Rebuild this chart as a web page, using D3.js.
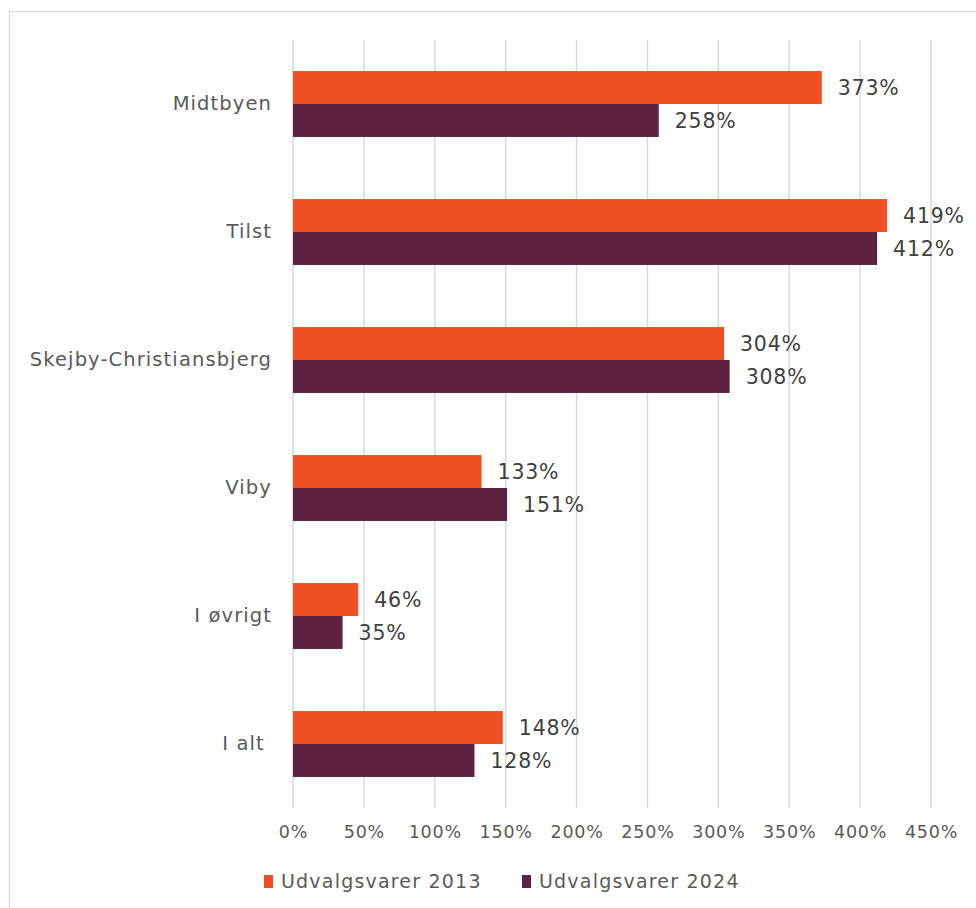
<!DOCTYPE html>
<html>
<head>
<meta charset="utf-8">
<script src="https://cdn.jsdelivr.net/npm/d3@7"></script>
<style>
  html, body { margin: 0; padding: 0; background: #fff; }
  svg { display: block; font-family: Verdana, "DejaVu Sans", sans-serif; }
  text { white-space: pre; }
</style>
</head>
<body>
<svg id="chart" width="976" height="908"></svg>
<script>
// Areas and the two survey years
const categories = ["Midtbyen", "Tilst", "Skejby-Christiansbjerg", "Viby", "I øvrigt", "I alt "];
const seriesNames = ["Udvalgsvarer 2013", "Udvalgsvarer 2024"];
const values2013 = [373, 419, 304, 133, 46, 148];
const values2024 = [258, 412, 308, 151, 35, 128];
const tickValues = [0, 50, 100, 150, 200, 250, 300, 350, 400, 450];
const colors = ["#F04E23", "#5E2140"];

const FONT = "Verdana, 'DejaVu Sans', sans-serif";
const svg = d3.select("#chart");

// Outer frame (runs off the right and bottom edges)
svg.append("rect")
  .attr("x", 9.5).attr("y", 11.5)
  .attr("width", 1000).attr("height", 1000)
  .attr("fill", "#fff").attr("stroke", "#d9d9d9").attr("stroke-width", 1.2);

const x = d3.scaleLinear().domain([0, 450]).range([293, 931]);
const y = d3.scaleBand().domain(categories).range([40, 808]).paddingInner(0.485).paddingOuter(0.2425);
const sub = d3.scaleBand().domain([0, 1]).range([0, y.bandwidth()]);

// Vertical gridlines
svg.append("g").selectAll("line").data(tickValues).join("line")
  .attr("x1", d => x(d)).attr("x2", d => x(d))
  .attr("y1", 40).attr("y2", 808)
  .attr("stroke", "#d9d9d9").attr("stroke-width", 1.5);

// Bottom axis labels
const xAxis = d3.axisBottom(x).tickValues(tickValues).tickSize(0).tickPadding(0)
  .tickFormat(d => d + "%");
const gx = svg.append("g").attr("transform", "translate(0,826)").call(xAxis);
gx.select(".domain").remove();
gx.selectAll("text").attr("fill", "#595959").attr("font-size", 17.5)
  .attr("letter-spacing", 0.8).attr("font-family", FONT);

// Left axis category labels
const yAxis = d3.axisLeft(y).tickSize(0).tickPadding(21);
const gy = svg.append("g").attr("transform", `translate(${x(0)},0)`).call(yAxis);
gy.select(".domain").remove();
gy.selectAll("text").attr("fill", "#595959").attr("font-size", 19.5)
  .attr("letter-spacing", 1.1).attr("font-family", FONT);

// Bars
const series = [values2013, values2024];
const rows = categories.map((c, i) => ({ cat: c, vals: series.map(s => s[i]) }));
const groups = svg.append("g").selectAll("g").data(rows).join("g")
  .attr("transform", d => `translate(0,${y(d.cat)})`);

groups.selectAll("rect").data(d => d.vals.map((v, k) => ({ v, k }))).join("rect")
  .attr("x", x(0))
  .attr("y", d => sub(d.k))
  .attr("width", d => x(d.v) - x(0))
  .attr("height", sub.bandwidth())
  .attr("fill", d => colors[d.k]);

// Value labels
groups.selectAll("text").data(d => d.vals.map((v, k) => ({ v, k }))).join("text")
  .attr("x", d => x(d.v) + 16)
  .attr("y", d => sub(d.k) + sub.bandwidth() / 2)
  .attr("dy", "0.35em")
  .attr("fill", "#404040")
  .attr("font-size", 20.5)
  .attr("letter-spacing", 0.8)
  .text(d => d.v + "%");

// Legend
const legendX = [264, 522];
const legend = svg.append("g").selectAll("g").data(seriesNames).join("g")
  .attr("transform", (d, i) => `translate(${legendX[i]},875)`);
legend.append("rect").attr("width", 9).attr("height", 13).attr("fill", (d, i) => colors[i]);
legend.append("text").attr("x", 17).attr("y", 6.5).attr("dy", "0.35em")
  .attr("fill", "#595959").attr("font-size", 19).attr("letter-spacing", 1.2).text(d => d);
</script>
</body>
</html>
